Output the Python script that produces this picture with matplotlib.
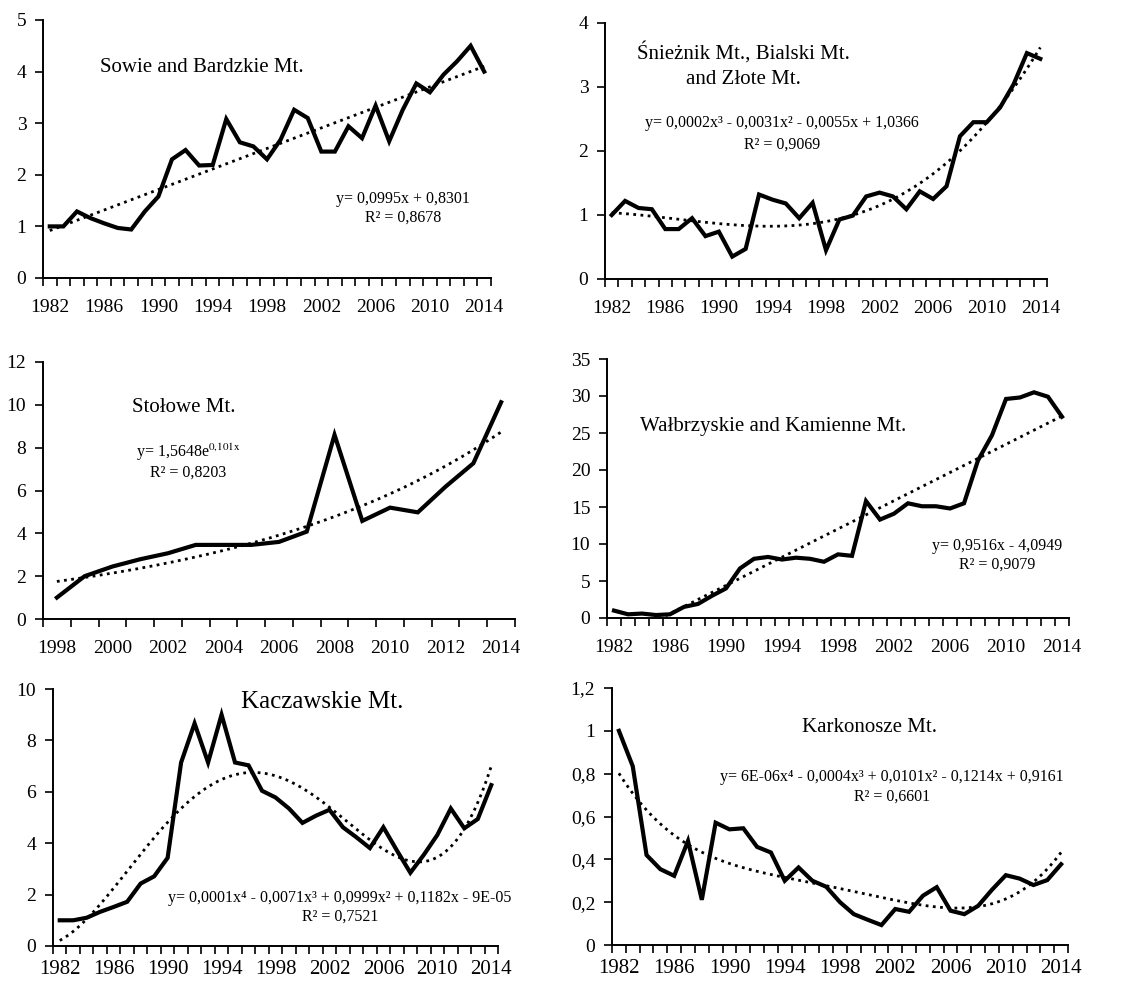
import numpy as np
import matplotlib
matplotlib.use('Agg')
import matplotlib.pyplot as plt

plt.rcParams['font.family'] = ['Liberation Serif', 'DejaVu Serif']
plt.rcParams['mathtext.fontset'] = 'stix'

years_long = list(range(1982, 2015))
years_stolowe = list(range(1998, 2015))

sowie = [1.0, 1.0, 1.29, 1.16, 1.06, 0.97, 0.94, 1.29, 1.58, 2.3, 2.48, 2.18, 2.19,
         3.08, 2.63, 2.55, 2.3, 2.68, 3.26, 3.1, 2.45, 2.45, 2.94, 2.71, 3.34, 2.65,
         3.26, 3.77, 3.6, 3.94, 4.2, 4.5, 4.0]
snieznik = [1.0, 1.22, 1.11, 1.09, 0.78, 0.78, 0.95, 0.67, 0.74, 0.35, 0.47, 1.32,
            1.24, 1.18, 0.95, 1.19, 0.45, 0.93, 0.99, 1.29, 1.35, 1.29, 1.09, 1.37,
            1.25, 1.45, 2.23, 2.45, 2.45, 2.68, 3.04, 3.53, 3.44]
stolowe = [1.0, 2.0, 2.45, 2.79, 3.07, 3.46, 3.46, 3.46, 3.6, 4.08, 8.6, 4.58, 5.2,
           4.98, 6.18, 7.27, 10.12]
walbrzyskie = [1.0, 0.5, 0.6, 0.4, 0.5, 1.5, 1.9, 3.0, 4.0, 6.7, 8.0, 8.25, 7.9,
               8.15, 8.0, 7.6, 8.6, 8.4, 15.8, 13.3, 14.1, 15.5, 15.1, 15.1, 14.8,
               15.5, 21.3, 24.7, 29.6, 29.8, 30.5, 29.9, 27.2]
kaczawskie = [1.0, 1.0, 1.1, 1.33, 1.52, 1.72, 2.43, 2.71, 3.43, 7.14, 8.66, 7.14,
              9.0, 7.14, 7.03, 6.04, 5.78, 5.35, 4.79, 5.07, 5.3, 4.62, 4.23, 3.81,
              4.62, 3.72, 2.85, 3.55, 4.32, 5.35, 4.58, 4.94, 6.26]
karkonosze = [1.0, 0.835, 0.42, 0.354, 0.323, 0.486, 0.211, 0.571, 0.54, 0.545,
              0.458, 0.432, 0.3, 0.362, 0.3, 0.272, 0.2, 0.144, 0.118, 0.093, 0.168,
              0.155, 0.23, 0.27, 0.16, 0.144, 0.183, 0.258, 0.326, 0.31, 0.28, 0.303,
              0.377]

fig = plt.figure(figsize=(11.32, 9.84), dpi=100)
W, H = 1132.0, 984.0


def make_ax(left, top, right, bottom):
    return fig.add_axes([left / W, 1 - bottom / H, (right - left) / W, (bottom - top) / H])


def trend(y, kind):
    x = np.arange(1, len(y) + 1)
    xs = np.linspace(1, len(y), 200)
    if kind == 'exp':
        b, a = np.polyfit(x, np.log(y), 1)
        return xs - 1, np.exp(a) * np.exp(b * xs)
    p = np.polyfit(x, y, kind)
    return xs - 1, np.polyval(p, xs)


def panel(ax, years, vals, kind, ymax, ystep, label_every, yfmt=None, xsize=14, xpad=15):
    n = len(years)
    pos = np.arange(n)
    tx, ty = trend(vals, kind)
    ax.plot(tx, ty, color='black', linestyle=(0, (1, 1.6)), lw=2.0)
    ax.plot(pos, vals, color='black', lw=3.0, solid_joinstyle='miter')
    ax.set_xlim(-0.5, n - 0.5)
    ax.set_ylim(0, ymax)
    for s in ['top', 'right']:
        ax.spines[s].set_visible(False)
    for s in ['left', 'bottom']:
        ax.spines[s].set_linewidth(1.4)
    ax.set_xticks(np.arange(-0.5, n, 1.0))
    ax.set_xticklabels([])
    ax.tick_params(axis='x', which='major', direction='out', length=6, width=1.2)
    lab = pos[::label_every]
    ax.set_xticks(lab, minor=True)
    ax.set_xticklabels([str(years[i]) for i in lab], minor=True, fontsize=xsize)
    ax.tick_params(axis='x', which='minor', length=0, pad=xpad)
    yt = np.arange(0, ymax + ystep / 2, ystep)
    ax.set_yticks(yt)
    if yfmt is None:
        ax.set_yticklabels([str(int(round(v))) for v in yt], fontsize=14)
    else:
        ax.set_yticklabels([yfmt(v) for v in yt], fontsize=14)
    ax.tick_params(axis='y', direction='out', length=6, width=1.2, pad=6)


def comma(v):
    s = ('%.1f' % v).replace('.', ',')
    if s.endswith(',0'):
        s = s[:-2]
    return s


eqs = 11.5

ax1 = make_ax(43, 20, 491, 278)
panel(ax1, years_long, sowie, 1, 5, 1, 4)
fig.text(202 / W, 1 - 67 / H, 'Sowie and Bardzkie Mt.', ha='center', va='center', fontsize=15)
fig.text(403 / W, 1 - 199 / H, 'y= 0,0995x + 0,8301', ha='center', va='center', fontsize=eqs)
fig.text(403 / W, 1 - 218 / H, 'R² = 0,8678', ha='center', va='center', fontsize=eqs)

ax2 = make_ax(605, 23, 1047, 279)
panel(ax2, years_long, snieznik, 3, 4, 1, 4)
fig.text(743 / W, 1 - 53 / H, 'Śnieżnik Mt., Bialski Mt.', ha='center', va='center', fontsize=15)
fig.text(743 / W, 1 - 79 / H, 'and Złote Mt.', ha='center', va='center', fontsize=15)
fig.text(782 / W, 1 - 123 / H, 'y= 0,0002x³ - 0,0031x² - 0,0055x + 1,0366', ha='center',
         va='center', fontsize=eqs)
fig.text(782 / W, 1 - 145 / H, 'R² = 0,9069', ha='center', va='center', fontsize=eqs)

ax3 = make_ax(43, 362, 515, 619)
panel(ax3, years_stolowe, stolowe, 'exp', 12, 2, 2)
fig.text(184 / W, 1 - 408 / H, 'Stołowe Mt.', ha='center', va='center', fontsize=15)
fig.text(188 / W, 1 - 452 / H, r'y= 1,5648e$^{\mathrm{0{,}101x}}$', ha='center', va='center',
         fontsize=eqs)
fig.text(188 / W, 1 - 473 / H, 'R² = 0,8203', ha='center', va='center', fontsize=eqs)

ax4 = make_ax(607, 359, 1069, 618)
panel(ax4, years_long, walbrzyskie, 1, 35, 5, 4)
fig.text(773 / W, 1 - 427 / H, 'Wałbrzyskie and Kamienne Mt.', ha='center', va='center', fontsize=15)
fig.text(997 / W, 1 - 546 / H, 'y= 0,9516x - 4,0949', ha='center', va='center', fontsize=eqs)
fig.text(997 / W, 1 - 565 / H, 'R² = 0,9079', ha='center', va='center', fontsize=eqs)

ax5 = make_ax(53, 689, 498, 946)
panel(ax5, years_long, kaczawskie, 4, 10, 2, 4, xsize=15, xpad=10)
fig.text(322 / W, 1 - 702 / H, 'Kaczawskie Mt.', ha='center', va='center', fontsize=18)
fig.text(340 / W, 1 - 898 / H, 'y= 0,0001x⁴ - 0,0071x³ + 0,0999x² + 0,1182x - 9E-05',
         ha='center', va='center', fontsize=eqs)
fig.text(340 / W, 1 - 917 / H, 'R² = 0,7521', ha='center', va='center', fontsize=eqs)

ax6 = make_ax(612, 688, 1068, 945)
panel(ax6, years_long, karkonosze, 4, 1.2, 0.2, 4, yfmt=comma, xsize=15, xpad=10)
fig.text(870 / W, 1 - 727 / H, 'Karkonosze Mt.', ha='center', va='center', fontsize=15)
fig.text(892 / W, 1 - 777 / H, 'y= 6E-06x⁴ - 0,0004x³ + 0,0101x² - 0,1214x + 0,9161',
         ha='center', va='center', fontsize=eqs)
fig.text(892 / W, 1 - 797 / H, 'R² = 0,6601', ha='center', va='center', fontsize=eqs)

fig.savefig('out.png', dpi=100)
